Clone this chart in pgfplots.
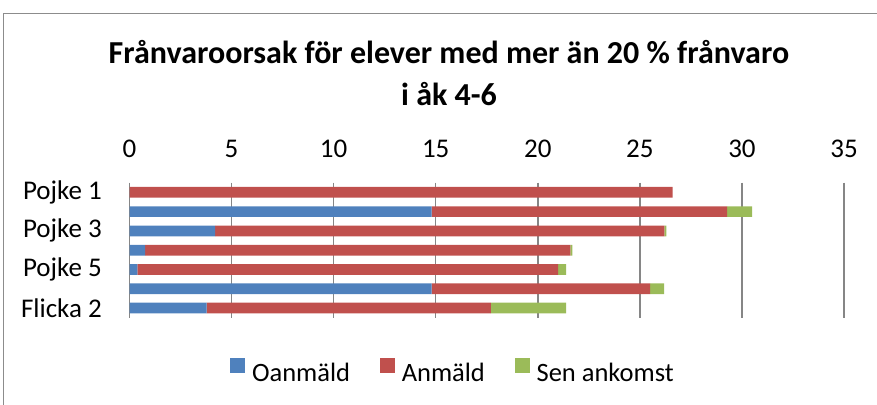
\documentclass[border=0pt]{standalone}
\usepackage{pgfplots}
\pgfplotsset{compat=1.18}
\usepackage{fontspec}
\setmainfont{Carlito}
\definecolor{cblue}{HTML}{4F81BD}
\definecolor{cred}{HTML}{C0504D}
\definecolor{cgreen}{HTML}{9BBB59}
\definecolor{cgrid}{HTML}{868686}
\definecolor{cborder}{HTML}{8C8C8C}
\begin{document}
\begin{tikzpicture}
\useasboundingbox (0pt,0pt) rectangle (877pt,404pt);
\draw[cborder, line width=1.3pt] (3.6pt,-10pt) rectangle (890pt,390.7pt);
\node[font=\fontsize{32}{38}\selectfont\bfseries, anchor=base, inner sep=0pt] at (449pt,340.7pt) {Frånvaroorsak för elever med mer än 20 \% frånvaro};
\node[font=\fontsize{32}{38}\selectfont\bfseries, anchor=base, inner sep=0pt] at (449pt,298pt) {i åk 4-6};
\begin{axis}[
  at={(129.5pt,86.3pt)}, anchor=south west,
  scale only axis, width=714.5pt, height=135pt,
  xbar stacked, bar width=10.7pt,
  y dir=reverse,
  xmin=0, xmax=35, ymin=-0.5, ymax=6.5,
  xtick={0,5,...,35},
  ytick={0,2,4,6},
  yticklabels={Pojke 1,Pojke 3,Pojke 5,Flicka 2},
  xticklabel pos=upper,
  xmajorgrids,
  major grid style={cgrid, line width=1.5pt},
  axis line style={draw=none},
  major tick length=0pt,
  /pgf/number format/assume math mode=true,
  tick label style={font=\fontsize{27}{32}\selectfont, inner sep=0pt},
  xticklabel style={anchor=base, yshift=25.7pt},
  yticklabel style={anchor=east, xshift=-27.5pt},
  legend columns=3,
  legend style={at={(0.4514,-0.3896)}, anchor=center, draw=none, fill=none,
    inner sep=0pt, font=\fontsize{26.5}{31}\selectfont,
    nodes={inner sep=0pt},
    /tikz/every even column/.append style={column sep=30pt},
    /tikz/every odd column/.append style={column sep=7pt}},
  legend image code/.code={\fill[#1] (0pt,0pt) rectangle (14.7pt,14.7pt);},
]
\addplot[fill=cblue, draw=none] coordinates {(0,0) (14.8,1) (4.2,2) (0.76,3) (0.38,4) (14.8,5) (3.78,6)};
\addplot[fill=cred, draw=none] coordinates {(26.6,0) (14.47,1) (22.0,2) (20.84,3) (20.62,4) (10.7,5) (13.92,6)};
\addplot[fill=cgreen, draw=none] coordinates {(0,0) (1.23,1) (0.1,2) (0.1,3) (0.39,4) (0.69,5) (3.69,6)};
\legend{Oanmäld, Anmäld, Sen ankomst}
\end{axis}
\end{tikzpicture}
\end{document}
